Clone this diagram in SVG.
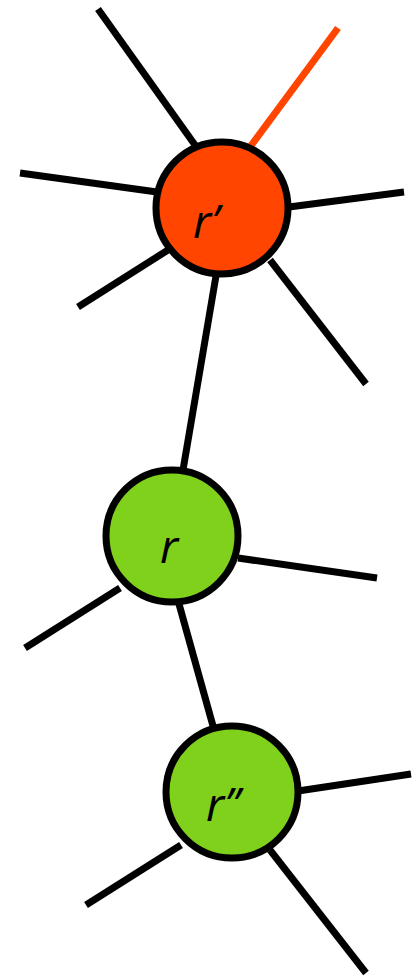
<svg xmlns="http://www.w3.org/2000/svg" width="418" height="977" viewBox="0 0 418 977">
<style>
.e{stroke:#000;stroke-width:7;fill:none}
.eo{stroke:#FF4500;stroke-width:7;fill:none}
.n{stroke:#000;stroke-width:7}
.lbl{font-family:"Open Sans",sans-serif;font-style:italic;font-size:46px;fill:#000}
</style>
<rect width="418" height="977" fill="#fff"/>
<g id="connectors">
<line class="e" x1="98" y1="9" x2="195" y2="145"/>
<line class="eo" x1="338" y1="28" x2="250" y2="147"/>
<line class="e" x1="20" y1="173" x2="157" y2="192"/>
<line class="e" x1="289" y1="207" x2="404" y2="192"/>
<line class="e" x1="78" y1="307" x2="168" y2="250"/>
<line class="e" x1="270" y1="260" x2="366" y2="384"/>
<line class="e" x1="217" y1="270" x2="183" y2="470"/>
<line class="e" x1="238" y1="558" x2="377" y2="578"/>
<line class="e" x1="25" y1="648" x2="120" y2="588"/>
<line class="e" x1="179" y1="604" x2="213" y2="726"/>
<line class="e" x1="298" y1="791" x2="411" y2="774"/>
<line class="e" x1="86" y1="905" x2="181" y2="845"/>
<line class="e" x1="270" y1="850" x2="366" y2="973"/>
</g>
<g id="node-rprime">
<circle class="n" cx="222" cy="208" r="66" fill="#FF4500"/>
<text class="lbl" x="193" y="238">r’</text>
</g>
<g id="node-r">
<circle class="n" cx="172" cy="536" r="66" fill="#80D11C"/>
<text class="lbl" x="160" y="563">r</text>
</g>
<g id="node-rdoubleprime">
<circle class="n" cx="232" cy="792" r="66" fill="#80D11C"/>
<text class="lbl" x="206" y="821">r’’</text>
</g>
</svg>
